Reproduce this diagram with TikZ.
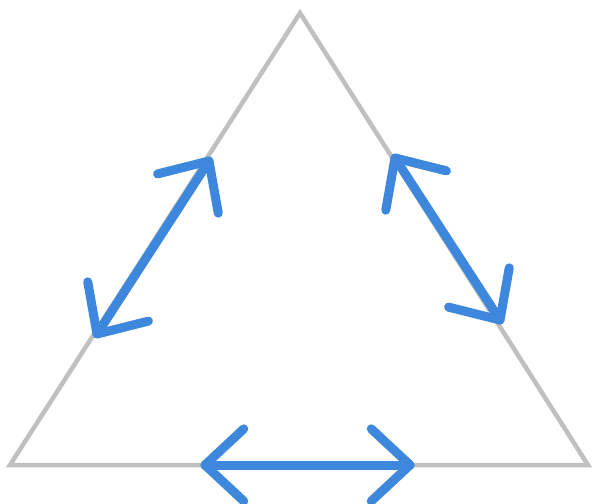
\documentclass[tikz,border=0pt]{standalone}
\usetikzlibrary{calc}
\definecolor{tri}{HTML}{C0C0C0}
\definecolor{arr}{HTML}{3D87DC}
\begin{document}
\begin{tikzpicture}[x=1pt,y=-1pt,
  side/.style={draw=tri,line width=4.5pt,line join=miter},
  dbl/.style={draw=arr,line width=9pt,line cap=round,line join=round}]
\useasboundingbox (0,0) rectangle (593,503);
\fill[white] (0,0) rectangle (593,503);
% triangle corners
\coordinate (A) at (300,13);
\coordinate (L) at (10,465);
\coordinate (R) at (588,465);
\draw[side] (A) -- (L) -- (R) -- cycle;
% arrow end points
\coordinate (l1) at (209,161);
\coordinate (l2) at (97,334);
\coordinate (r1) at (395,158);
\coordinate (r2) at (500,320);
\coordinate (b1) at (205,465);
\coordinate (b2) at (410,465);
\newcommand{\dblarrow}[2]{%
  \draw[dbl] (#1) -- (#2);
  \draw[dbl] ($(#1)!53pt!43:(#2)$) -- (#1) -- ($(#1)!53pt!-43:(#2)$);
  \draw[dbl] ($(#2)!53pt!43:(#1)$) -- (#2) -- ($(#2)!53pt!-43:(#1)$);
}
\dblarrow{l1}{l2}
\dblarrow{r1}{r2}
\dblarrow{b1}{b2}
\end{tikzpicture}
\end{document}
